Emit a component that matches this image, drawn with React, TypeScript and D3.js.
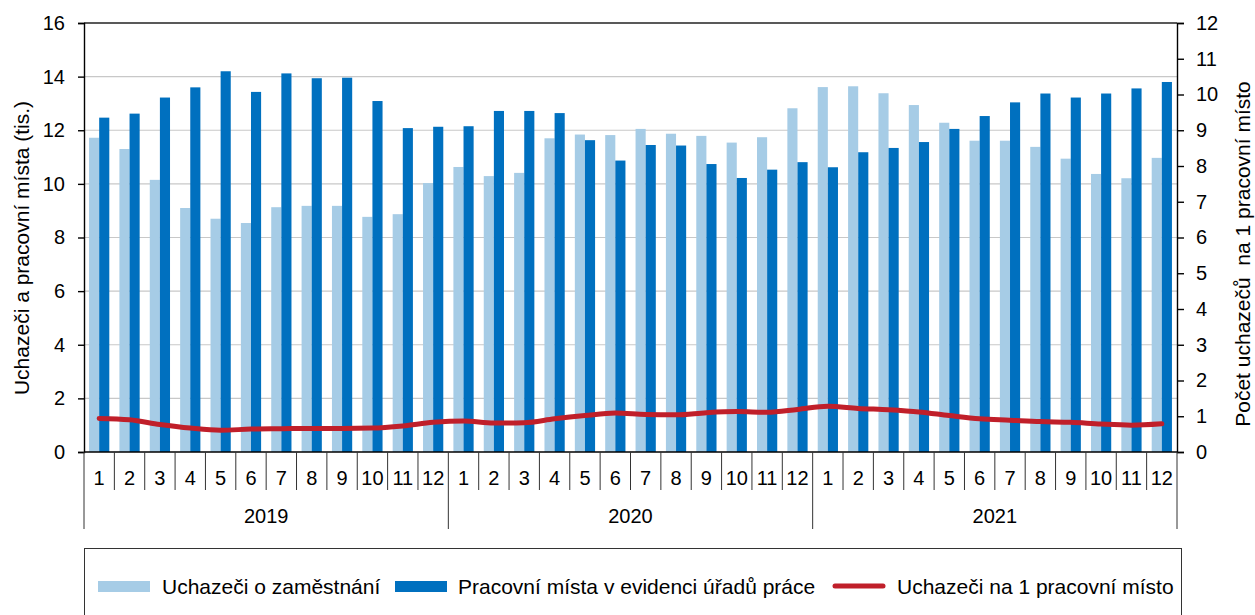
import React, { useEffect, useRef } from 'react';
import * as d3 from 'd3';

// years and months on the category axis
const years = ['2019', '2020', '2021'];
const months = ['1', '2', '3', '4', '5', '6', '7', '8', '9', '10', '11', '12'];

// Uchazeči o zaměstnání (tis.)
const applicants = [
  11.72, 11.30, 10.15, 9.10, 8.70, 8.54, 9.13, 9.18, 9.18, 8.77, 8.87, 10.03,
  10.63, 10.29, 10.41, 11.70, 11.84, 11.82, 12.05, 11.87, 11.79, 11.54, 11.74, 12.82,
  13.61, 13.64, 13.38, 12.94, 12.28, 11.61, 11.61, 11.38, 10.94, 10.37, 10.21, 10.97,
];

// Pracovní místa v evidenci úřadů práce (tis.)
const vacancies = [
  12.47, 12.62, 13.22, 13.60, 14.20, 13.43, 14.12, 13.94, 13.96, 13.09, 12.08, 12.13,
  12.15, 12.72, 12.72, 12.64, 11.63, 10.87, 11.45, 11.43, 10.74, 10.22, 10.53, 10.81,
  10.62, 11.18, 11.34, 11.56, 12.05, 12.53, 13.04, 13.37, 13.22, 13.37, 13.56, 13.80,
];

// Uchazeči na 1 pracovní místo (right axis)
const ratio = [
  0.94, 0.90, 0.77, 0.67, 0.61, 0.64, 0.65, 0.66, 0.66, 0.67, 0.73, 0.83,
  0.87, 0.81, 0.82, 0.93, 1.02, 1.09, 1.05, 1.04, 1.10, 1.13, 1.11, 1.19,
  1.28, 1.22, 1.18, 1.12, 1.02, 0.93, 0.89, 0.85, 0.83, 0.78, 0.75, 0.79,
];

const leftTicks = [0, 2, 4, 6, 8, 10, 12, 14, 16];
const rightTicks = [0, 1, 2, 3, 4, 5, 6, 7, 8, 9, 10, 11, 12];

const FONT = 'Liberation Sans, Arial, sans-serif';
const LIGHT = '#a6cce6';
const DARK = '#0070bf';
const RED = '#c01f2a';

const App = () => {
  const ref = useRef<SVGSVGElement | null>(null);

  useEffect(() => {
    const svg = d3.select(ref.current);
    svg.selectAll('*').remove();

    const left = 84, right = 1177, top = 23, bottom = 452;

    const keys = d3.range(applicants.length);
    const x = d3.scaleBand<number>().domain(keys).range([left, right]);
    const inner = d3.scaleBand<string>()
      .domain(['a', 'b'])
      .range([0, x.bandwidth()])
      .paddingOuter(0.5);
    const y = d3.scaleLinear().domain([0, 16]).range([bottom, top]);
    const y2 = d3.scaleLinear().domain([0, 12]).range([bottom, top]);

    // gridlines
    svg.append('g')
      .selectAll('line')
      .data(leftTicks.slice(1, -1))
      .enter().append('line')
      .attr('x1', left).attr('x2', right)
      .attr('y1', d => y(d)).attr('y2', d => y(d))
      .attr('stroke', '#c8c8c8').attr('stroke-width', 1.2);

    // top frame line
    svg.append('line')
      .attr('x1', left).attr('x2', right)
      .attr('y1', top).attr('y2', top)
      .attr('stroke', '#222').attr('stroke-width', 1.4);

    // bars
    svg.append('g')
      .selectAll('rect')
      .data(keys)
      .enter().append('rect')
      .attr('x', i => (x(i) as number) + (inner('a') as number))
      .attr('width', inner.bandwidth())
      .attr('y', i => y(applicants[i]))
      .attr('height', i => bottom - y(applicants[i]))
      .attr('fill', LIGHT);

    svg.append('g')
      .selectAll('rect')
      .data(keys)
      .enter().append('rect')
      .attr('x', i => (x(i) as number) + (inner('b') as number))
      .attr('width', inner.bandwidth())
      .attr('y', i => y(vacancies[i]))
      .attr('height', i => bottom - y(vacancies[i]))
      .attr('fill', DARK);

    // ratio line
    const line = d3.line<number>()
      .x((d, i) => (x(i) as number) + x.bandwidth() / 2)
      .y(d => y2(d))
      .curve(d3.curveMonotoneX);

    svg.append('path')
      .datum(ratio)
      .attr('d', line)
      .attr('fill', 'none')
      .attr('stroke', RED)
      .attr('stroke-width', 5)
      .attr('stroke-linecap', 'round');

    // left axis
    const gl = svg.append('g')
      .attr('transform', `translate(${left},0)`)
      .call(d3.axisLeft(y).tickValues(leftTicks).tickSize(6).tickPadding(13));
    gl.selectAll('text').attr('font-size', 20).attr('font-family', FONT).attr('fill', '#000');
    gl.selectAll('line, path').attr('stroke', '#000').attr('stroke-width', 1.4);

    // right axis
    const gr = svg.append('g')
      .attr('transform', `translate(${right},0)`)
      .call(d3.axisRight(y2).tickValues(rightTicks).tickSize(7).tickPadding(12));
    gr.selectAll('text').attr('font-size', 20).attr('font-family', FONT).attr('fill', '#000');
    gr.selectAll('line, path').attr('stroke', '#000').attr('stroke-width', 1.4);

    // bottom axis line
    svg.append('line')
      .attr('x1', left).attr('x2', right)
      .attr('y1', bottom).attr('y2', bottom)
      .attr('stroke', '#000').attr('stroke-width', 1.4);

    // month separators and labels
    const sep = svg.append('g');
    keys.forEach(i => {
      const x0 = x(i) as number;
      const yearStart = i % 12 === 0;
      sep.append('line')
        .attr('x1', x0).attr('x2', x0)
        .attr('y1', bottom).attr('y2', yearStart ? 529 : 490)
        .attr('stroke', '#333').attr('stroke-width', 1);
      sep.append('text')
        .attr('x', x0 + x.bandwidth() / 2)
        .attr('y', 485)
        .attr('text-anchor', 'middle')
        .attr('font-size', 20).attr('font-family', FONT)
        .text(months[i % 12]);
    });
    sep.append('line')
      .attr('x1', right).attr('x2', right)
      .attr('y1', bottom).attr('y2', 529)
      .attr('stroke', '#333').attr('stroke-width', 1);

    years.forEach((yr, k) => {
      const a = x(k * 12) as number;
      const b = (x(k * 12 + 11) as number) + x.bandwidth();
      sep.append('text')
        .attr('x', (a + b) / 2)
        .attr('y', 523)
        .attr('text-anchor', 'middle')
        .attr('font-size', 20).attr('font-family', FONT)
        .text(yr);
    });

    // axis titles
    svg.append('text')
      .attr('transform', `translate(29,248) rotate(-90)`)
      .attr('text-anchor', 'middle')
      .attr('font-size', 21).attr('font-family', FONT)
      .text('Uchazeči a pracovní místa (tis.)');

    svg.append('text')
      .attr('transform', `translate(1250,254) rotate(-90)`)
      .attr('text-anchor', 'middle')
      .attr('font-size', 21).attr('font-family', FONT)
      .style('white-space', 'pre')
      .text('Počet uchazečů  na 1 pracovní místo');

    // legend
    const lg = svg.append('g');
    lg.append('rect')
      .attr('x', 84.5).attr('y', 548.5)
      .attr('width', 1097).attr('height', 80)
      .attr('fill', 'none').attr('stroke', '#333').attr('stroke-width', 1);

    const items = [
      { label: 'Uchazeči o zaměstnání', x: 98, tx: 162, kind: 'light' },
      { label: 'Pracovní místa v evidenci úřadů práce', x: 395, tx: 458, kind: 'dark' },
      { label: 'Uchazeči na 1 pracovní místo', x: 832, tx: 897, kind: 'line' },
    ];
    items.forEach(it => {
      if (it.kind === 'line') {
        lg.append('line')
          .attr('x1', it.x + 3).attr('x2', it.x + 51)
          .attr('y1', 586).attr('y2', 586)
          .attr('stroke', RED).attr('stroke-width', 5).attr('stroke-linecap', 'round');
      } else {
        lg.append('rect')
          .attr('x', it.x).attr('y', 581)
          .attr('width', 52).attr('height', 11)
          .attr('fill', it.kind === 'light' ? LIGHT : DARK);
      }
      lg.append('text')
        .attr('x', it.tx).attr('y', 594)
        .attr('font-size', 21).attr('font-family', FONT)
        .text(it.label);
    });
  }, []);

  return <svg ref={ref} width={1255} height={615} style={{ position: 'absolute', left: 0, top: 0 }} />;
};

export default App;
